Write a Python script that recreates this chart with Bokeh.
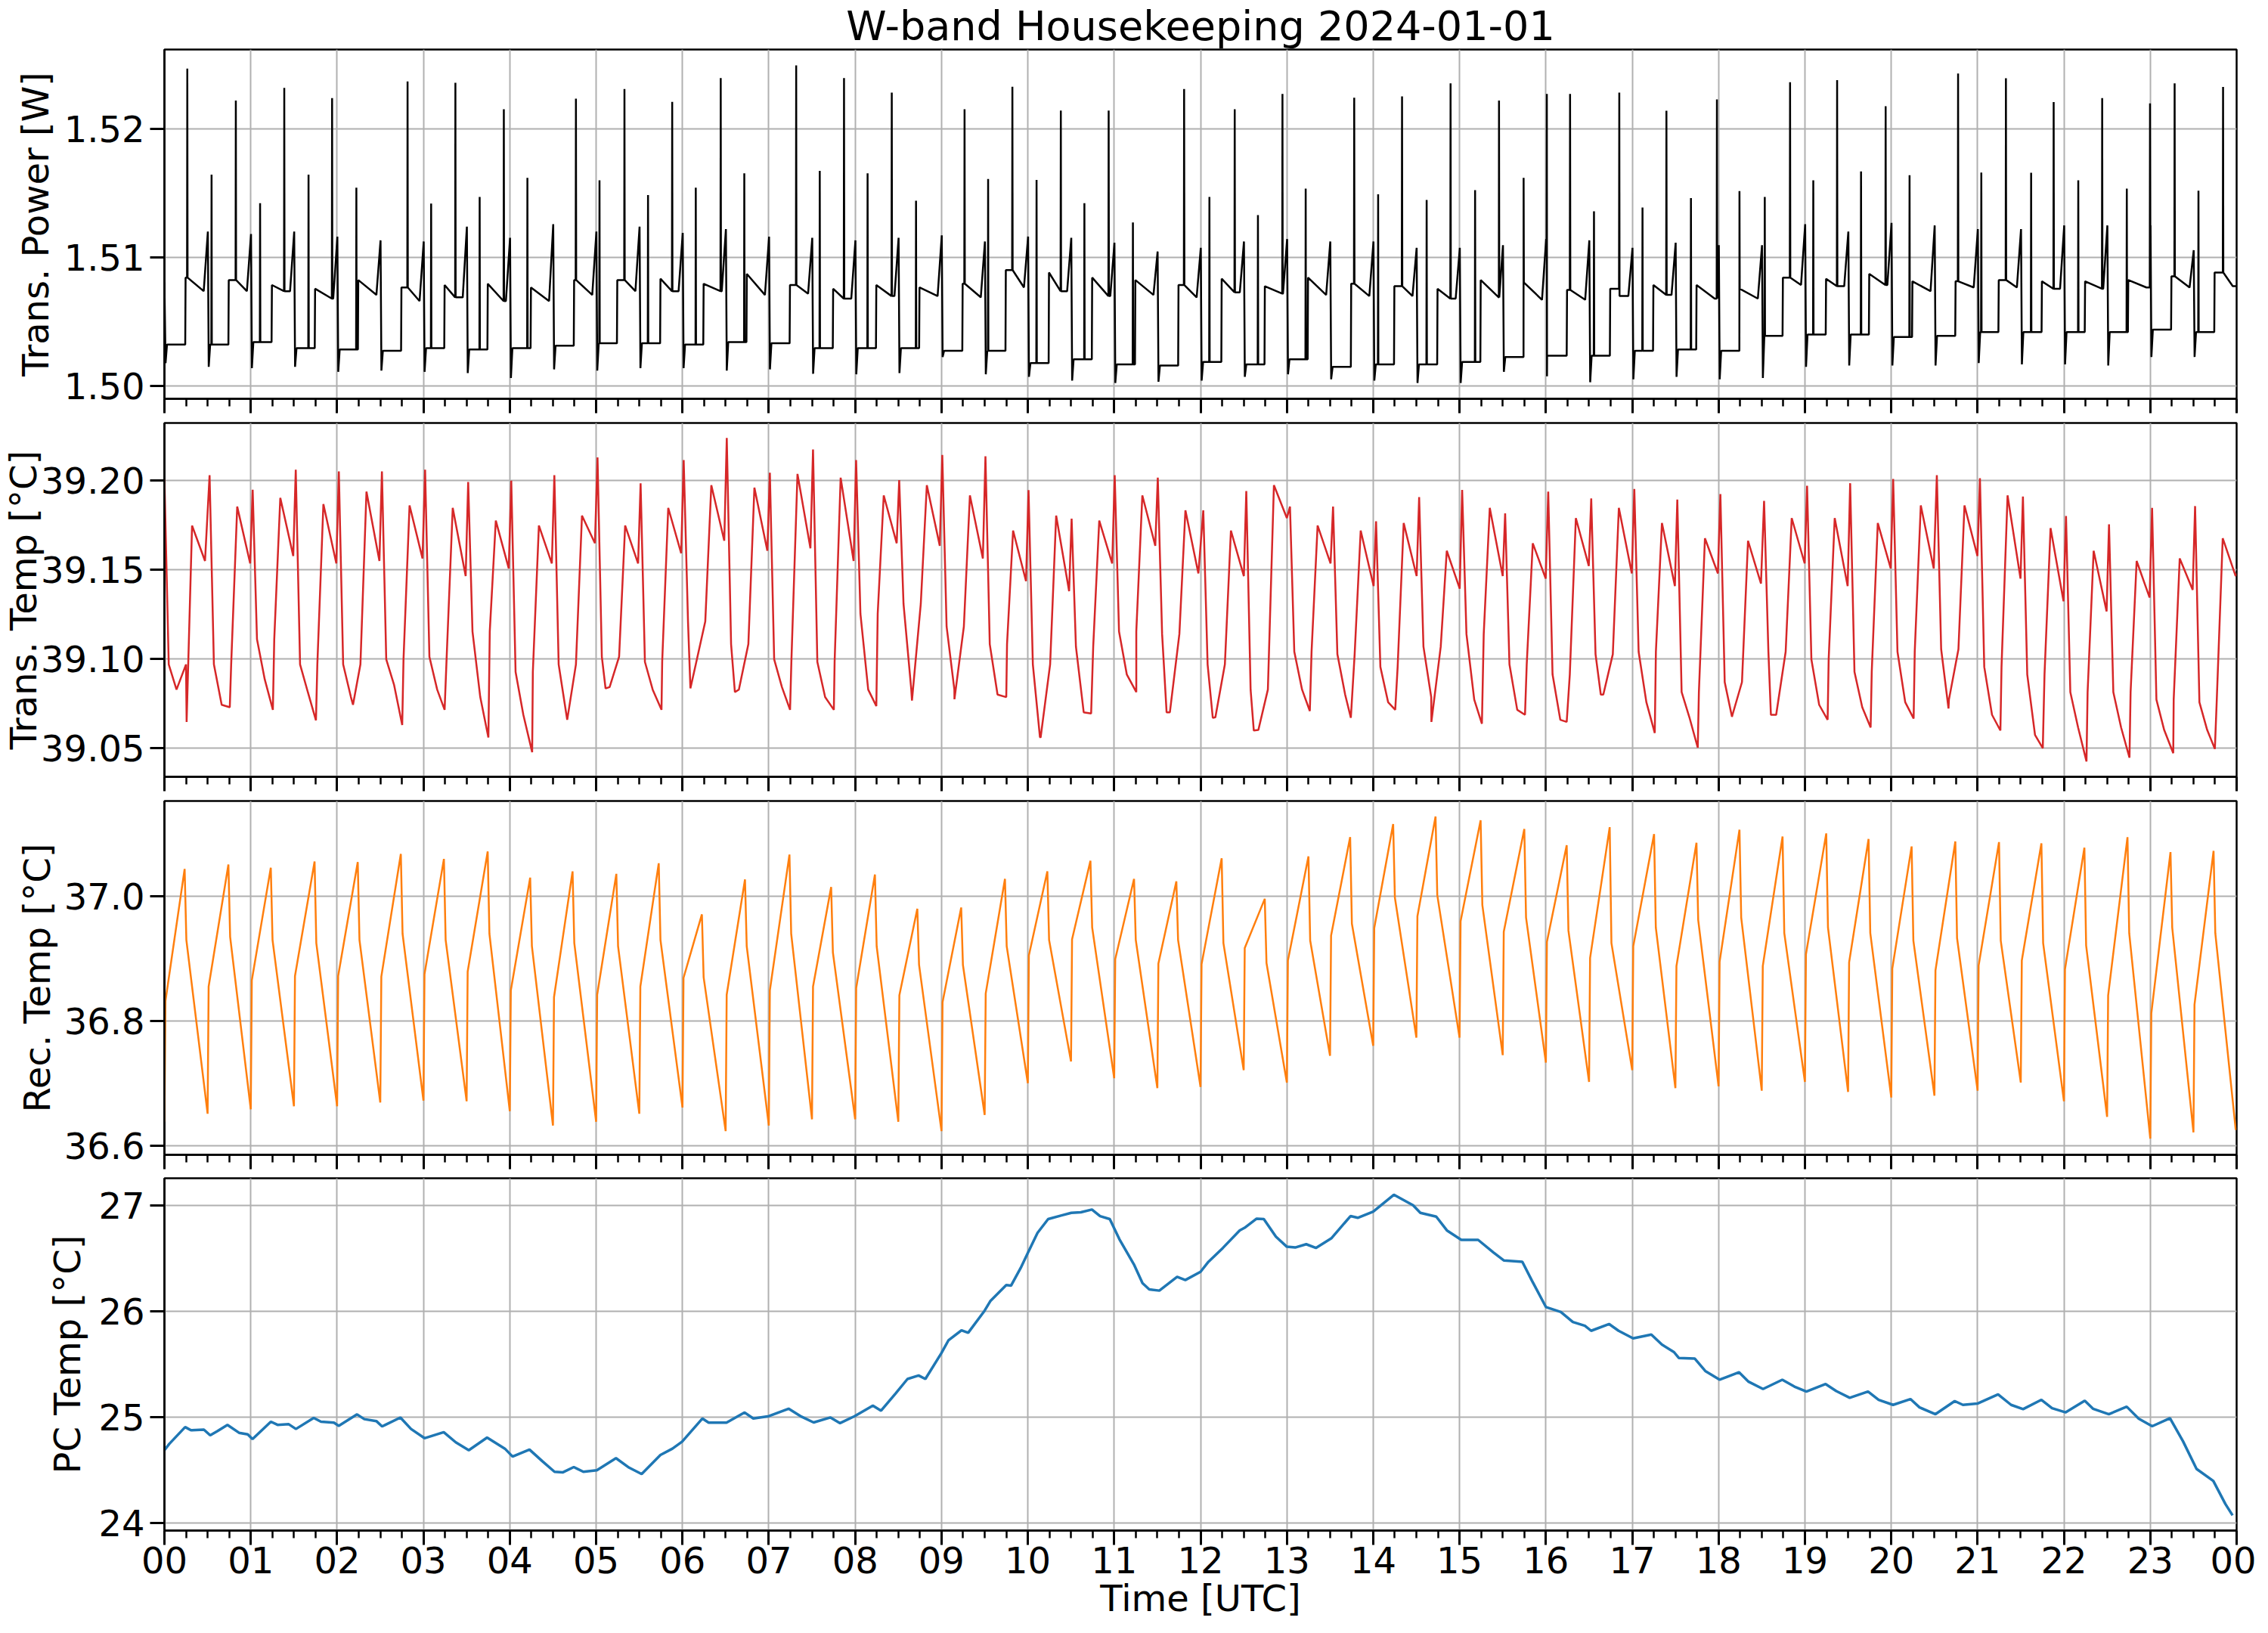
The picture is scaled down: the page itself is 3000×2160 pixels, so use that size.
from bokeh.plotting import figure
from bokeh.layouts import column
from bokeh.models import Range1d, FixedTicker, PrintfTickFormatter
from bokeh.embed import file_html
from bokeh.resources import INLINE

# ---------------------------------------------------------------- data
# half-hour heater cycles (hours UTC)
cycle_t = [0.0, 0.5, 1.0, 1.5, 2.0, 2.5, 3.0, 3.5, 4.0, 4.5, 5.0, 5.5,
           6.0, 6.5, 7.0, 7.5, 8.0, 8.5, 9.0, 9.5, 10.0, 10.5, 11.0, 11.5,
           12.0, 12.5, 13.0, 13.5, 14.0, 14.5, 15.0, 15.5, 16.0, 16.5, 17.0, 17.5,
           18.0, 18.5, 19.0, 19.5, 20.0, 20.5, 21.0, 21.5, 22.0, 22.5, 23.0, 23.5]

# ---- Trans. Power [W]
pwr_start = 1.50806
pwr_hi_start = [1.50844, 1.50825, 1.50786, 1.50757, 1.50825, 1.50767, 1.50786, 1.50796, 1.50767, 1.50825, 1.50825, 1.50835,
                1.50796, 1.50873, 1.50786, 1.50757, 1.50786, 1.50767, 1.50796, 1.50902, 1.50883, 1.50844, 1.50825, 1.50786,
                1.50835, 1.50777, 1.50844, 1.50796, 1.50777, 1.50757, 1.50825, 1.50806, 1.50748, 1.50757, 1.50786, 1.50786,
                1.50757, 1.50844, 1.50835, 1.50873, 1.50815, 1.50815, 1.50825, 1.50815, 1.50815, 1.50825, 1.50854, 1.50883]
pwr_hi_end = [1.50738, 1.50738, 1.50738, 1.50680, 1.50709, 1.50661, 1.50690, 1.50661, 1.50661, 1.50709, 1.50738, 1.50738,
              1.50738, 1.50709, 1.50719, 1.50680, 1.50700, 1.50700, 1.50690, 1.50767, 1.50738, 1.50700, 1.50709, 1.50690,
              1.50729, 1.50719, 1.50709, 1.50700, 1.50700, 1.50680, 1.50690, 1.50671, 1.50671, 1.50700, 1.50709, 1.50680,
              1.50680, 1.50786, 1.50777, 1.50786, 1.50738, 1.50767, 1.50767, 1.50757, 1.50757, 1.50767, 1.50767, 1.50777]
pwr_ramp = [1.51202, 1.51183, 1.51202, 1.51163, 1.51134, 1.51125, 1.51241, 1.51154, 1.51260, 1.51202, 1.51241, 1.51192,
            1.51221, 1.51163, 1.51154, 1.51134, 1.51154, 1.51173, 1.51125, 1.51163, 1.51154, 1.51115, 1.51047, 1.51076,
            1.51125, 1.51144, 1.51125, 1.51125, 1.51076, 1.51076, 1.51096, 1.51144, 1.51134, 1.51076, 1.51115, 1.51096,
            1.51096, 1.51260, 1.51202, 1.51270, 1.51250, 1.51221, 1.51221, 1.51250, 1.51250, 1.51250, 1.51057, 1.50777]
pwr_low = [1.50323, 1.50323, 1.50342, 1.50294, 1.50284, 1.50274, 1.50294, 1.50284, 1.50294, 1.50313, 1.50332, 1.50332,
           1.50323, 1.50342, 1.50332, 1.50294, 1.50294, 1.50294, 1.50274, 1.50274, 1.50178, 1.50207, 1.50168, 1.50159,
           1.50187, 1.50168, 1.50207, 1.50149, 1.50168, 1.50168, 1.50187, 1.50226, 1.50236, 1.50236, 1.50274, 1.50284,
           1.50274, 1.50390, 1.50400, 1.50400, 1.50381, 1.50390, 1.50419, 1.50419, 1.50419, 1.50419, 1.50439, 1.50419]
pwr_dip = [1.50178, 1.50149, 1.50139, 1.50149, 1.50110, 1.50120, 1.50110, 1.50100, 1.50062, 1.50129, 1.50120, 1.50139,
           1.50139, 1.50120, 1.50129, 1.50095, 1.50091, 1.50100, 1.50226, 1.50091, 1.50071, 1.50042, 1.50023, 1.50033,
           1.50042, 1.50071, 1.50091, 1.50052, 1.50042, 1.50023, 1.50023, 1.50110, 1.50075, 1.50029, 1.50052, 1.50071,
           1.50052, 1.50062, 1.50149, 1.50159, 1.50159, 1.50159, 1.50178, 1.50168, 1.50168, 1.50159, 1.50226, 1.50226]
pwr_tall_t = [0.265, 0.827, 1.388, 1.942, 2.816, 3.370, 3.931, 4.766, 5.328, 5.881, 6.443, 7.317, 7.871, 8.424,
              9.267, 9.821, 10.382, 10.936, 11.810, 12.396, 12.949, 13.780, 14.334, 14.896, 15.457, 16.011, 16.280,
              16.850, 17.396, 17.981, 18.828, 19.373, 19.935, 20.774, 21.328, 21.881, 22.443, 22.997, 23.282, 23.843]
pwr_tall_v = [1.52471, 1.52222, 1.52321, 1.52242, 1.52371, 1.52361, 1.52155, 1.52238, 1.52313, 1.52213, 1.52398,
              1.52497, 1.52398, 1.52284, 1.52155, 1.52330, 1.52145, 1.52145, 1.52313, 1.52155, 1.52274, 1.52245,
              1.52255, 1.52356, 1.52222, 1.52274, 1.52274, 1.52284, 1.52143, 1.52232, 1.52365, 1.52381, 1.52178,
              1.52433, 1.52396, 1.52211, 1.52242, 1.52201, 1.52356, 1.52329]
pwr_mid_t = [0.546, 1.108, 1.669, 2.223, 3.089, 3.651, 4.204, 5.039, 5.601, 6.154, 6.716, 7.590, 8.144, 8.705,
             9.540, 10.101, 10.655, 11.217, 12.103, 12.665, 13.218, 14.057, 14.619, 15.180, 15.742, 16.557, 17.119,
             17.680, 18.242, 18.535, 19.097, 19.650, 20.212, 21.043, 21.620, 22.166, 22.728, 23.558]
pwr_mid_v = [1.51646, 1.51424, 1.51646, 1.51544, 1.51420, 1.51472, 1.51621, 1.51602, 1.51486, 1.51544, 1.51656,
             1.51675, 1.51656, 1.51443, 1.51612, 1.51604, 1.51424, 1.51273, 1.51472, 1.51331, 1.51536, 1.51492,
             1.51449, 1.51525, 1.51621, 1.51360, 1.51389, 1.51463, 1.51517, 1.51472, 1.51602, 1.51670, 1.51641,
             1.51662, 1.51660, 1.51602, 1.51536, 1.51521]

# ---- Trans. Temp [°C]
tt_spike_t = [0.0, 0.523, 1.022, 1.521, 2.020, 2.519, 3.019, 3.518, 4.017, 4.516, 5.016, 5.515,
              6.014, 6.513, 7.012, 7.512, 8.011, 8.510, 9.009, 9.509, 10.008, 10.507, 11.006, 11.505,
              12.032, 12.530, 13.036, 13.535, 14.033, 14.532, 15.030, 15.528, 16.027, 16.525, 17.024, 17.522,
              18.021, 18.527, 19.025, 19.524, 20.022, 20.528, 21.027, 21.525, 22.024, 22.522, 23.021, 23.519]
tt_spike = [39.2007, 39.2028, 39.1946, 39.2059, 39.2049, 39.2049, 39.2059, 39.1990, 39.1997, 39.2028, 39.2127, 39.1982,
            39.2113, 39.2236, 39.2042, 39.2172, 39.2113, 39.2000, 39.2141, 39.2134, 39.1944, 39.1785, 39.2028, 39.2014,
            39.1831, 39.1939, 39.1852, 39.1852, 39.1770, 39.1905, 39.1945, 39.1814, 39.1936, 39.1898, 39.1951, 39.1891,
            39.1922, 39.1884, 39.1969, 39.1983, 39.2007, 39.2028, 39.2011, 39.1908, 39.1799, 39.1753, 39.1845, 39.1855]
tt_lo_top = [39.0969, 39.0969, 39.1110, 39.0969, 39.0969, 39.0997, 39.1012, 39.1153, 39.0927, 39.0969, 39.1012, 39.0983,
             39.1209, 39.1082, 39.0997, 39.0983, 39.1252, 39.1308, 39.1181, 39.1082, 39.0969, 39.1068, 39.1153, 39.1139,
             39.0969, 39.0828, 39.1040, 39.1026, 39.0955, 39.1068, 39.1139, 39.0969, 39.0913, 39.1026, 39.1040, 39.0814,
             39.0870, 39.1040, 39.0997, 39.0927, 39.1040, 39.1054, 39.0955, 39.0913, 39.0814, 39.0814, 39.0772, 39.0757]
tt_lo_bot = [39.0828, 39.0743, 39.0885, 39.0814, 39.0786, 39.0856, 39.0828, 39.0786, 39.0687, 39.0687, 39.0842, 39.0828,
             39.0969, 39.0828, 39.0842, 39.0786, 39.0828, 39.0828, 39.0828, 39.0800, 39.0560, 39.0701, 39.0913, 39.0701,
             39.0673, 39.0602, 39.0828, 39.0800, 39.0757, 39.0786, 39.0772, 39.0715, 39.0659, 39.0800, 39.0757, 39.0673,
             39.0687, 39.0687, 39.0743, 39.0729, 39.0757, 39.0772, 39.0687, 39.0574, 39.0616, 39.0616, 39.0602, 39.0602]
tt_min = [39.0647, 39.0729, 39.0715, 39.0656, 39.0743, 39.0630, 39.0715, 39.0560, 39.0478, 39.0659, 39.0835, 39.0715,
          39.0835, 39.0814, 39.0715, 39.0715, 39.0736, 39.0767, 39.0774, 39.0786, 39.0563, 39.0694, 39.0814, 39.0701,
          39.0670, 39.0599, 39.0708, 39.0670, 39.0715, 39.0647, 39.0637, 39.0687, 39.0647, 39.0800, 39.0585, 39.0503,
          39.0676, 39.0687, 39.0659, 39.0616, 39.0666, 39.0722, 39.0599, 39.0500, 39.0426, 39.0447, 39.0472, 39.0496]
tt_min_t = [0.257, 0.757, 1.256, 1.755, 2.184, 2.754, 3.245, 3.752, 4.259, 4.665, 5.109, 5.757,
            6.092, 6.607, 7.246, 7.753, 8.245, 8.658, 9.150, 9.750, 10.140, 10.733, 11.256, 11.607,
            12.142, 12.617, 13.266, 13.741, 14.255, 14.674, 15.259, 15.758, 16.241, 16.636, 17.261, 17.759,
            18.155, 18.606, 19.263, 19.761, 20.259, 20.663, 21.264, 21.755, 22.261, 22.759, 23.266, 23.748]
tt_hi_top = [39.1746, 39.1852, 39.1901, 39.1866, 39.1936, 39.1859, 39.1845, 39.1774, 39.1746, 39.1802, 39.1746, 39.1845,
             39.1972, 39.1958, 39.2035, 39.2014, 39.1915, 39.1972, 39.1915, 39.1718, 39.1802, 39.1774, 39.1915, 39.1831,
             39.1718, 39.1972, 39.1746, 39.1718, 39.1760, 39.1605, 39.1845, 39.1647, 39.1788, 39.1845, 39.1760, 39.1675,
             39.1661, 39.1788, 39.1788, 39.1760, 39.1859, 39.1859, 39.1915, 39.1732, 39.1605, 39.1548, 39.1562, 39.1675]
tt_hi_bot = [39.1548, 39.1534, 39.1576, 39.1534, 39.1548, 39.1562, 39.1463, 39.1506, 39.1534, 39.1647, 39.1534, 39.1591,
             39.1661, 39.1605, 39.1619, 39.1548, 39.1647, 39.1633, 39.1562, 39.1435, 39.1379, 39.1534, 39.1633, 39.1478,
             39.1463, 39.1788, 39.1534, 39.1407, 39.1463, 39.1393, 39.1463, 39.1449, 39.1520, 39.1478, 39.1407, 39.1478,
             39.1421, 39.1534, 39.1407, 39.1506, 39.1506, 39.1576, 39.1449, 39.1322, 39.1266, 39.1343, 39.1386, 39.1463]
tt_end_t, tt_end = 23.99, 39.1478

# ---- Rec. Temp [°C]
rec_low = [36.638, 36.651, 36.658, 36.663, 36.663, 36.669, 36.672, 36.671, 36.655, 36.632, 36.638, 36.651,
           36.661, 36.623, 36.632, 36.642, 36.642, 36.638, 36.623, 36.649, 36.700, 36.735, 36.708, 36.692,
           36.694, 36.721, 36.701, 36.744, 36.760, 36.773, 36.773, 36.745, 36.733, 36.702, 36.721, 36.692,
           36.695, 36.688, 36.702, 36.686, 36.677, 36.680, 36.688, 36.701, 36.671, 36.646, 36.611, 36.621]
rec_jump = [36.832, 36.855, 36.865, 36.872, 36.872, 36.871, 36.875, 36.879, 36.849, 36.838, 36.842, 36.855,
            36.869, 36.842, 36.849, 36.855, 36.853, 36.841, 36.830, 36.844, 36.905, 36.931, 36.899, 36.892,
            36.891, 36.917, 36.897, 36.937, 36.949, 36.968, 36.960, 36.943, 36.927, 36.901, 36.920, 36.888,
            36.895, 36.888, 36.907, 36.894, 36.884, 36.881, 36.889, 36.897, 36.883, 36.841, 36.812, 36.826]
rec_peak_t = [0.234, 0.741, 1.232, 1.739, 2.239, 2.738, 3.237, 3.744, 4.236, 4.727, 5.234, 5.725,
              6.225, 6.724, 7.239, 7.722, 8.229, 8.720, 9.228, 9.735, 10.226, 10.725, 11.230, 11.720,
              12.245, 12.744, 13.250, 13.733, 14.231, 14.722, 15.244, 15.750, 16.241, 16.739, 17.253, 17.744,
              18.242, 18.741, 19.247, 19.737, 20.236, 20.742, 21.248, 21.739, 22.237, 22.736, 23.234, 23.733]
rec_peak = [37.044, 37.051, 37.046, 37.056, 37.055, 37.068, 37.060, 37.072, 37.030, 37.040, 37.036, 37.053,
            36.971, 37.027, 37.067, 37.015, 37.035, 36.980, 36.982, 37.028, 37.040, 37.057, 37.028, 37.024,
            37.061, 36.996, 37.064, 37.095, 37.116, 37.128, 37.122, 37.108, 37.082, 37.111, 37.100, 37.086,
            37.107, 37.096, 37.101, 37.092, 37.080, 37.088, 37.087, 37.085, 37.078, 37.095, 37.071, 37.073]
rec_post = [36.930, 36.935, 36.930, 36.925, 36.930, 36.940, 36.930, 36.940, 36.920, 36.925, 36.920, 36.930,
            36.870, 36.920, 36.940, 36.910, 36.920, 36.890, 36.890, 36.920, 36.930, 36.950, 36.930, 36.930,
            36.925, 36.893, 36.929, 36.956, 36.998, 37.002, 36.986, 36.966, 36.945, 36.925, 36.950, 36.962,
            36.966, 36.941, 36.950, 36.941, 36.929, 36.933, 36.929, 36.925, 36.921, 36.941, 36.950, 36.941]
rec_end_t, rec_end = 23.99, 36.625

# ---- PC Temp [°C]
pc_t = [0.0, 0.056, 0.24, 0.307, 0.457, 0.53, 0.613, 0.73, 0.864, 0.965, 1.02, 1.233, 1.31, 1.44, 1.523,
        1.729, 1.813, 1.963, 2.019, 2.231, 2.315, 2.454, 2.521, 2.733, 2.856, 3.012, 3.235, 3.374, 3.525,
        3.737, 3.943, 4.032, 4.228, 4.378, 4.518, 4.612, 4.741, 4.852, 5.008, 5.23, 5.382, 5.527, 5.745,
        5.884, 5.996, 6.23, 6.303, 6.51, 6.72, 6.82,
        7.0, 7.229, 7.379, 7.519, 7.714, 7.825, 7.993, 8.205, 8.30, 8.467, 8.606, 8.735, 8.813, 8.997,
        9.08, 9.231, 9.309, 9.499, 9.565, 9.75, 9.805, 9.917, 10.0, 10.112, 10.235, 10.391, 10.503, 10.614,
        10.742, 10.837, 10.949, 11.06, 11.228, 11.328, 11.406, 11.523, 11.729, 11.824, 12.0, 12.092, 12.259,
        12.454, 12.51, 12.65, 12.733, 12.873, 13.0, 13.096, 13.224, 13.336, 13.514, 13.737, 13.821, 14.0,
        14.239, 14.462, 14.546, 14.73, 14.853, 15.02, 15.215,
        15.392, 15.515, 15.727, 15.838, 16.0, 16.173, 16.312, 16.452, 16.524, 16.731, 16.842, 17.01, 17.221,
        17.344, 17.484, 17.539, 17.723, 17.846, 18.013, 18.236, 18.348, 18.515, 18.738, 18.878, 19.017,
        19.24, 19.363, 19.519, 19.731, 19.854, 20.021, 20.222, 20.328, 20.512, 20.735, 20.83, 20.997,
        21.237, 21.388, 21.527, 21.739, 21.862, 22.018, 22.241, 22.336, 22.52, 22.727, 22.866, 23.022,
        23.228, 23.379, 23.536, 23.73, 23.87, 23.953]
pc_v = [24.685, 24.745, 24.904, 24.874, 24.880, 24.826, 24.865, 24.925, 24.850, 24.835, 24.790, 24.955,
        24.925, 24.931, 24.886, 24.991, 24.955, 24.946, 24.916, 25.024, 24.979, 24.961, 24.910, 24.994,
        24.886, 24.799, 24.856, 24.760, 24.685, 24.805, 24.700, 24.625, 24.691, 24.580, 24.481, 24.475,
        24.526, 24.481, 24.496, 24.610, 24.520, 24.460, 24.640, 24.700, 24.766, 24.985, 24.946, 24.946,
        25.042, 24.985,
        25.007, 25.078, 25.002, 24.948, 24.995, 24.941, 25.007, 25.107, 25.059, 25.221, 25.359, 25.392,
        25.359, 25.601, 25.724, 25.819, 25.796, 26.005, 26.095, 26.247, 26.242, 26.409, 26.551, 26.741,
        26.872, 26.907, 26.931, 26.936, 26.962, 26.900, 26.872, 26.682, 26.444, 26.266, 26.207, 26.195,
        26.325, 26.295, 26.373, 26.468, 26.599, 26.765, 26.789, 26.876, 26.872, 26.705, 26.610, 26.603,
        26.634, 26.599, 26.689, 26.900, 26.884, 26.943, 27.102, 27.002, 26.931, 26.895, 26.765, 26.675,
        26.675,
        26.556, 26.480, 26.468, 26.290, 26.040, 25.993, 25.898, 25.862, 25.815, 25.879, 25.815, 25.743,
        25.779, 25.684, 25.613, 25.558, 25.553, 25.435, 25.352, 25.423, 25.333, 25.264, 25.352, 25.287,
        25.240, 25.311, 25.245, 25.181, 25.240, 25.162, 25.114, 25.169, 25.090, 25.026, 25.150, 25.114,
        25.126, 25.214, 25.114, 25.074, 25.162, 25.083, 25.043, 25.154, 25.078, 25.026, 25.097, 24.983,
        24.912, 24.988, 24.770, 24.508, 24.394, 24.176, 24.069]

# timing of features inside a cycle (hours after the cycle boundary / spike)
PWR_RAMP_DT, PWR_DIP_DT, PWR_LOW_DT, PWR_ON_DT, PWR_HIEND_DT, SPIKE_HW = 0.003, 0.013, 0.03, 0.245, 0.455, 0.003
TT_LO_A, TT_LO_B, TT_LO_END, TT_HI_A, TT_HI_END = 0.05, 0.14, 0.25, 0.32, 0.47
REC_JUMP_DT, REC_DROP_DT = 0.012, 0.02

for arr in (pwr_hi_start, pwr_hi_end, pwr_ramp, pwr_low, pwr_dip, tt_spike_t, tt_spike, tt_lo_top, tt_lo_bot,
            tt_min, tt_min_t, tt_hi_top, tt_hi_bot, rec_low, rec_jump, rec_peak_t, rec_peak, rec_post):
    assert len(arr) == 48, len(arr)
assert len(pwr_tall_t) == len(pwr_tall_v) and len(pwr_mid_t) == len(pwr_mid_v)
assert len(pc_t) == len(pc_v)


# ---------------------------------------------------------------- series assembly
def power_level(t):
    """step level of the power baseline at time t (read levels, no interpolation)"""
    k = min(int(t // 0.5), 47)
    ph = t - cycle_t[k]
    if ph < PWR_DIP_DT and k > 0:
        return pwr_ramp[k - 1]
    if ph < PWR_ON_DT:
        return pwr_low[k]
    if ph < 0.35:
        return pwr_hi_start[k]
    return pwr_hi_end[k]


def power_series():
    pts = [(0.0, 0, pwr_start)]
    for k, L in enumerate(cycle_t):
        if k > 0:
            pts.append((L + PWR_RAMP_DT, 0, pwr_ramp[k - 1]))
        pts += [(L + PWR_DIP_DT, 0, pwr_dip[k]), (L + PWR_LOW_DT, 0, pwr_low[k]),
                (L + PWR_ON_DT - 0.004, 0, pwr_low[k]), (L + PWR_ON_DT, 0, pwr_hi_start[k]),
                (L + PWR_HIEND_DT, 0, pwr_hi_end[k])]
    pts.append((23.995, 0, pwr_ramp[47]))
    for t, v in list(zip(pwr_tall_t, pwr_tall_v)) + list(zip(pwr_mid_t, pwr_mid_v)):
        pts += [(t - SPIKE_HW, 1, power_level(t - SPIKE_HW)), (t, 1, v),
                (t + SPIKE_HW, 1, power_level(t + SPIKE_HW))]
    pts.sort(key=lambda p: (p[0], p[1]))
    return [p[0] for p in pts], [p[2] for p in pts]


def ttemp_series():
    pts = []
    for j, S in enumerate(tt_spike_t):
        cyc = [(S, tt_spike[j]), (S + TT_LO_A, tt_lo_top[j]), (S + TT_LO_B, tt_lo_bot[j]),
               (tt_min_t[j], tt_min[j]), (S + TT_LO_END, tt_lo_top[j]),
               (S + TT_HI_A, tt_hi_top[j]), (S + TT_HI_END, tt_hi_bot[j])]
        cyc.sort(key=lambda p: p[0])
        pts += cyc
    pts.append((tt_end_t, tt_end))
    return [p[0] for p in pts], [p[1] for p in pts]


def rec_series():
    xs, ys = [], []
    for k, L in enumerate(cycle_t):
        xs += [L, L + REC_JUMP_DT, rec_peak_t[k], rec_peak_t[k] + REC_DROP_DT]
        ys += [rec_low[k], rec_jump[k], rec_peak[k], rec_post[k]]
    xs.append(rec_end_t)
    ys.append(rec_end)
    return xs, ys


# ---------------------------------------------------------------- layout / style
FONT = "DejaVu Sans"
W = 2984
LEFT, RIGHT = 213, 26
hour_ticks = list(range(25))
quarter_ticks = [q / 4 for q in range(97) if q % 4]


def make_fig(height, top, bottom, yr, yticks, yfmt, ylab, ylab_standoff, show_x):
    p = figure(width=W, height=height, x_range=Range1d(0, 24), y_range=Range1d(*yr),
               output_backend="svg", toolbar_location=None,
               min_border_left=LEFT, min_border_right=RIGHT,
               min_border_top=top, min_border_bottom=bottom)
    p.background_fill_color = "white"
    p.border_fill_color = "white"
    p.outline_line_color = "black"
    p.outline_line_width = 2.5
    p.outline_line_alpha = 1.0
    xa, ya = p.xaxis[0], p.yaxis[0]
    xa.ticker = FixedTicker(ticks=hour_ticks, minor_ticks=quarter_ticks)
    ya.ticker = FixedTicker(ticks=yticks)
    ya.formatter = PrintfTickFormatter(format=yfmt)
    for ax in (xa, ya):
        ax.axis_line_color = "black"
        ax.axis_line_width = 2.5
        ax.major_tick_out = 19
        ax.major_tick_in = 0
        ax.major_tick_line_width = 3
        ax.major_tick_line_color = "black"
        ax.major_label_text_font = FONT
        ax.major_label_text_font_size = "48px"
        ax.major_label_text_color = "black"
        ax.axis_label_text_font = FONT
        ax.axis_label_text_font_size = "48px"
        ax.axis_label_text_font_style = "normal"
        ax.axis_label_text_color = "black"
    xa.minor_tick_out = 10
    xa.minor_tick_in = 0
    xa.minor_tick_line_width = 2.5
    xa.minor_tick_line_color = "black"
    ya.minor_tick_line_color = None
    ya.major_label_standoff = 7
    ya.axis_label = ylab
    ya.axis_label_standoff = ylab_standoff
    if show_x:
        xa.major_label_overrides = {h: "%02d" % (h % 24) for h in hour_ticks}
        xa.major_label_standoff = 2
    else:
        xa.major_label_overrides = {h: "" for h in hour_ticks}
        xa.major_label_text_font_size = "1px"
        xa.major_label_standoff = 0
    for g in (p.xgrid[0], p.ygrid[0]):
        g.grid_line_color = "#b0b0b0"
        g.grid_line_width = 2
    return p


# panel 1 (with the title)
p1 = make_fig(553, 54, 26, (1.4990, 1.5262), [1.50, 1.51, 1.52], "%.2f",
              "Trans. Power [W]", 7, False)
p1.title.text = "W-band Housekeeping 2024-01-01"
p1.title.align = "center"
p1.title.text_font = FONT
p1.title.text_font_size = "54px"
p1.title.text_font_style = "normal"
p1.title.text_color = "black"
p1.title.standoff = 0
p1.title.offset = 0
px, py = power_series()
p1.line(px, py, line_color="black", line_width=2.5)

# panel 2
p2 = make_fig(500, 6, 26, (39.034, 39.232), [39.05, 39.10, 39.15, 39.20], "%.2f",
              "Trans. Temp [°C]", -8, False)
tx, ty = ttemp_series()
p2.line(tx, ty, line_color="#d62728", line_width=2.5)

# panel 3
p3 = make_fig(500, 6, 26, (36.585, 37.153), [36.6, 36.8, 37.0], "%.1f",
              "Rec. Temp [°C]", 5, False)
rx, ry = rec_series()
p3.line(rx, ry, line_color="#ff7f0e", line_width=2.5)

# panel 4 (with the time axis labels)
p4 = make_fig(591, 5, 118, (23.925, 27.258), [24, 25, 26, 27], "%d",
              "PC Temp [°C]", 10, True)
p4.xaxis[0].axis_label = "Time [UTC]"
p4.xaxis[0].axis_label_standoff = 2
p4.line(pc_t, pc_v, line_color="#1f77b4", line_width=3.5)

layout = column(p1, p2, p3, p4, spacing=0)
open("out.html", "w").write(file_html(layout, INLINE))
